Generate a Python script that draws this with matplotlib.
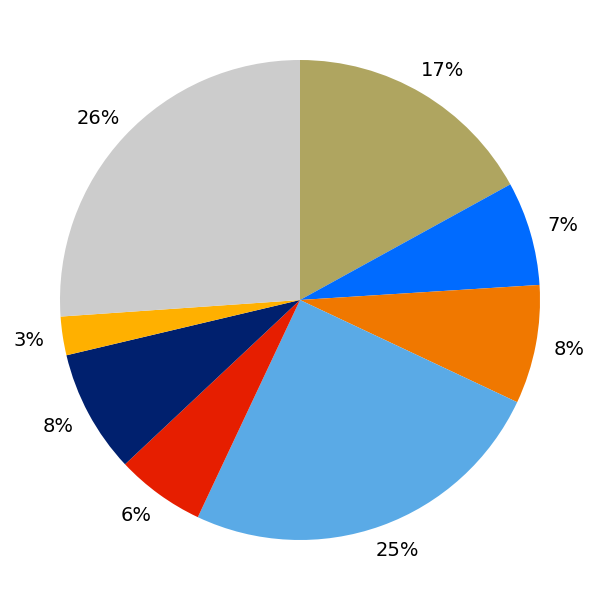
import matplotlib
matplotlib.use('Agg')
import matplotlib.pyplot as plt
import numpy as np

# shares (clockwise from 12 o'clock)
shares = [17.0, 7.0, 8.0, 25.0, 6.0, 8.3, 2.6, 26.1]
colors = ['#afa560', '#006bff', '#f07800', '#5aaae6',
          '#e61e00', '#00206e', '#ffb000', '#cccccc']

fig = plt.figure(figsize=(6, 6), dpi=100)
ax = fig.add_axes([0.1, 0.1, 0.8, 0.8])
wedges, texts, autotexts = ax.pie(
    shares, colors=colors, startangle=90, counterclock=False,
    autopct='%.0f%%', pctdistance=1.11,
    textprops={'fontsize': 14, 'color': 'black'},
    wedgeprops={'linewidth': 0})

# push the labels a little sideways, away from the pie
for w, t in zip(wedges, autotexts):
    ang = np.deg2rad((w.theta1 + w.theta2) / 2)
    x, y = 1.11 * np.cos(ang), 1.11 * np.sin(ang)
    t.set_position((x + 0.03 * np.sign(x), y))

ax.set_aspect('equal')
ax.set_xlim(-1, 1)
ax.set_ylim(-1, 1)
fig.savefig('out.png')
